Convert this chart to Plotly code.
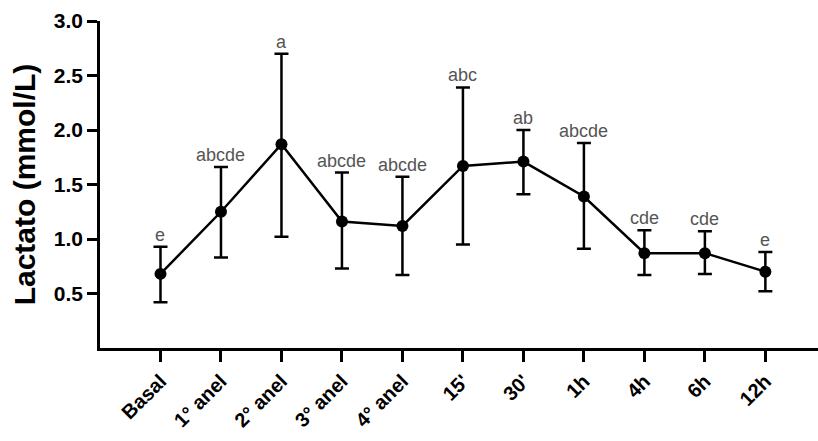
import plotly.graph_objects as go

# Lactate time course: mean with upper/lower error limits and significance letters
categories = ["Basal", "1° anel", "2° anel", "3° anel", "4° anel",
              "15'", "30'", "1h", "4h", "6h", "12h"]
means = [0.68, 1.25, 1.87, 1.16, 1.12, 1.67, 1.71, 1.39, 0.87, 0.87, 0.70]
upper = [0.93, 1.66, 2.70, 1.61, 1.57, 2.39, 2.00, 1.88, 1.08, 1.07, 0.88]
lower = [0.42, 0.83, 1.02, 0.73, 0.67, 0.95, 1.41, 0.91, 0.67, 0.68, 0.52]
letters = ["e", "abcde", "a", "abcde", "abcde", "abc", "ab", "abcde", "cde", "cde", "e"]
y_ticks = [0.5, 1.0, 1.5, 2.0, 2.5, 3.0]

FONT = "Arial, Liberation Sans, Helvetica, sans-serif"

err_plus = [u - m for u, m in zip(upper, means)]
err_minus = [m - l for m, l in zip(means, lower)]

fig = go.Figure()
fig.add_trace(go.Scatter(
    x=categories, y=means,
    mode="lines+markers",
    line=dict(color="black", width=2.5),
    marker=dict(color="black", size=12),
    error_y=dict(type="data", symmetric=False, array=err_plus,
                 arrayminus=err_minus, color="black", thickness=2.5, width=7),
    cliponaxis=False,
    showlegend=False,
))

for cat, top, lab in zip(categories, upper, letters):
    fig.add_annotation(x=cat, y=top, text=lab, showarrow=False,
                       xanchor="center", yanchor="bottom", yshift=0,
                       font=dict(family=FONT, size=18, color="#555555"))

fig.update_layout(
    width=818, height=441,
    margin=dict(l=100, r=0, t=21, b=93),
    paper_bgcolor="white", plot_bgcolor="white",
    font=dict(family=FONT, color="black"),
    xaxis=dict(
        type="category", categoryorder="array", categoryarray=categories,
        range=[-1, 10.87], showgrid=False, zeroline=False,
        showline=True, linecolor="black", linewidth=2.5,
        ticks="outside", ticklen=11, tickwidth=2.5, tickcolor="black",
        tickangle=-45,
        tickfont=dict(family=FONT, size=20, color="black", weight="bold"),
    ),
    yaxis=dict(
        range=[0, 3.0], showgrid=False, zeroline=False,
        showline=True, linecolor="black", linewidth=2.5,
        ticks="outside", ticklen=10, tickwidth=2.5, tickcolor="black",
        tickvals=y_ticks, ticktext=[f"{v:.1f}" for v in y_ticks],
        tickfont=dict(family=FONT, size=21, color="black", weight="bold"),
        title=dict(text="Lactato (mmol/L)", standoff=10,
                   font=dict(family=FONT, size=30, color="black", weight="bold")),
    ),
)

fig.write_html("out.html")
